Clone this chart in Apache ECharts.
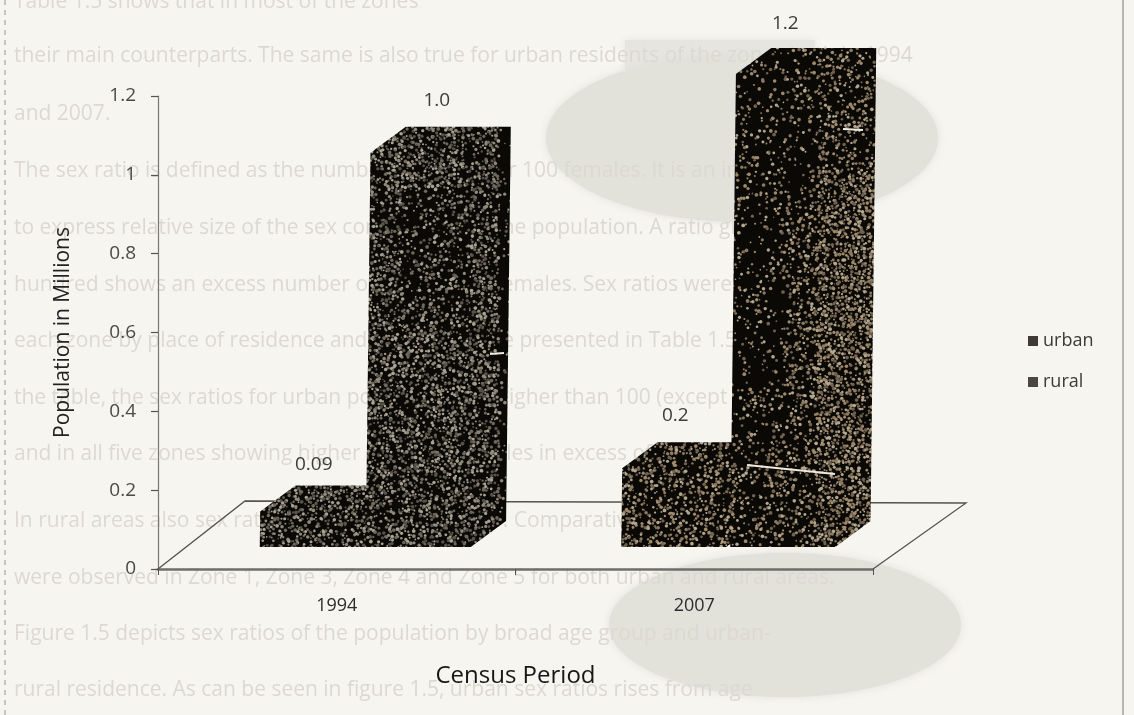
<!DOCTYPE html>
<html>
<head>
<meta charset="utf-8">
<title>Population by census period</title>
<script src="https://cdn.jsdelivr.net/npm/echarts@6/dist/echarts.min.js"></script>
<style>
html, body { margin: 0; padding: 0; background: #f7f5ef; }
#chart1 { width: 1134px; height: 715px; filter: blur(0.6px); }
</style>
</head>
<body>
<div id="chart1"></div>
<script>
// data
var categories = ['1994', '2007'];
var urban = [0.09, 0.2];
var rural = [1.0, 1.2];
var urbanLabels = ['0.09', '0.2'];
var ruralLabels = ['1.0', '1.2'];

// text of the page showing through the scan
var ghostLines = [
    'Table 1.5 shows that in most of the zones',
    'their main counterparts. The same is also true for urban residents of the zones both in 1994',
    'and 2007.',
    'The sex ratio is defined as the number of males per 100 females. It is an index used',
    'to express relative size of the sex composition of the population. A ratio greater than',
    'hundred shows an excess number of males than females. Sex ratios were calculated for',
    'each zone by place of residence and the results are presented in Table 1.5. As shown in',
    'the table, the sex ratios for urban population are higher than 100 (except Afar Region)',
    'and in all five zones showing higher number of males in excess of females.',
    'In rural areas also sex ratios were higher than 100. Comparatively higher sex ratios',
    'were observed in Zone 1, Zone 3, Zone 4 and Zone 5 for both urban and rural areas.',
    'Figure 1.5 depicts sex ratios of the population by broad age group and urban-',
    'rural residence. As can be seen in figure 1.5, urban sex ratios rises from age'
];
var ghostY = [2, 56, 114, 171, 228, 285, 341, 398, 454, 521, 578, 634, 690];

// bar geometry in pixels, relative to the band centre
var barLeft = [[-77, -73], [29, 36]];
var barWidth = 105;
var depthX = 35, depthY = 26;
var baseLift = 22;
var skew = 0.012;
var labelShift = [[54, 54], [71, 55]];
var labelGap = [21, 27, 26, 24];

// speckle texture for the bars, a full page canvas so it lines up with the marks
function makeTexture() {
    var raw = document.createElement('canvas');
    raw.width = 1134;
    raw.height = 715;
    var ctx = raw.getContext('2d');
    ctx.fillStyle = '#0b0906';
    ctx.fillRect(0, 0, 1134, 715);
    var seed = 12345;
    function next() {
        seed = (seed * 1664525 + 1013904223) % 4294967296;
        return seed / 4294967296;
    }
    var colors1994 = ['#8f897c', '#a8a294', '#6e685d', '#57524a'];
    var colors2007 = ['#a08a6c', '#8c7a62', '#b3a78f', '#6f6250'];
    for (var y = 36; y < 560; y += 3) {
        for (var x = 250; x < 880; x += 3) {
            var dens, colors;
            if (x < 560) {
                dens = 0.62;
                colors = colors1994;
                if (x > 497) dens = 0.12;
                if (x > 400 && x < 470 && y > 190 && y < 330) dens = 0.42;
            } else {
                colors = colors2007;
                if (x < 730) dens = 0.5;
                else if (x < 785) dens = y > 440 ? 0.38 : 0.2;
                else if (x < 815) dens = y < 200 ? 0.25 : 0.42;
                else dens = y < 170 ? 0.4 : 0.72;
            }
            if (next() < dens) {
                ctx.fillStyle = colors[Math.floor(next() * colors.length)];
                ctx.beginPath();
                ctx.arc(x + next() * 3, y + next() * 3, 0.8 + next() * 1.1, 0, Math.PI * 2);
                ctx.fill();
            }
        }
    }
    // scratches in the print
    ctx.strokeStyle = '#eeeae0';
    ctx.lineWidth = 2;
    ctx.beginPath();
    ctx.moveTo(747, 465); ctx.lineTo(835, 474);
    ctx.moveTo(843, 129); ctx.lineTo(863, 130);
    ctx.moveTo(490, 354); ctx.lineTo(504, 353);
    ctx.stroke();
    return raw;
}

var texture = { image: makeTexture(), repeat: 'repeat' };

function barRender(seriesIdx, labels) {
    return function (params, api) {
        var idx = params.dataIndex;
        var cat = api.value(0);
        var val = api.value(1);
        var zero = api.coord([cat, 0]);
        var top = api.coord([cat, val]);
        var left = zero[0] + barLeft[seriesIdx][idx];
        var right = left + barWidth;
        var baseY = zero[1] - baseLift;
        var topY = baseY - (zero[1] - top[1]);
        function p(x, y) {
            return [x + (baseY - y) * skew, y];
        }
        var pts = [
            p(left, baseY),
            p(left, topY),
            p(left + depthX, topY - depthY),
            p(right + depthX, topY - depthY),
            p(right + depthX, baseY - depthY),
            p(right, baseY)
        ];
        var gap = labelGap[seriesIdx * 2 + idx];
        return {
            type: 'group',
            children: [
                { type: 'polygon', shape: { points: pts }, style: { fill: texture } },
                {
                    type: 'text',
                    style: {
                        x: left + labelShift[seriesIdx][idx],
                        y: topY - depthY - gap,
                        text: labels[idx],
                        textAlign: 'center',
                        textVerticalAlign: 'middle',
                        fill: '#3c3c3a',
                        font: '19px "Open Sans"'
                    }
                }
            ]
        };
    };
}

function floorRender(params, api) {
    var box = params.coordSys;
    var x0 = box.x, y0 = box.y + box.height, x1 = box.x + box.width;
    return {
        type: 'polyline',
        shape: { points: [[x0, y0], [x0 + 87, y0 - 68], [x1 + 93, y0 - 66], [x1, y0]] },
        style: { fill: null, stroke: '#55534e', lineWidth: 1.3 }
    };
}

function toPairs(values) {
    return values.map(function (v, i) { return [i, v]; });
}

var ghost = ghostLines.map(function (line, i) {
    return {
        type: 'text',
        z: -1,
        silent: true,
        style: {
            x: 14,
            y: ghostY[i],
            text: line,
            textVerticalAlign: 'middle',
            fill: '#dbd9d2',
            font: '21px "Open Sans"'
        }
    };
});

var paper = [
    { type: 'rect', z: -3, silent: true, shape: { x: 625, y: 40, width: 190, height: 70 }, style: { fill: '#e6e5df', shadowBlur: 8, shadowColor: '#e6e5df' } },
    { type: 'ellipse', z: -2, silent: true, shape: { cx: 742, cy: 138, rx: 196, ry: 84 }, style: { fill: '#e2e1da', shadowBlur: 8, shadowColor: '#e2e1da' } },
    { type: 'ellipse', z: -2, silent: true, shape: { cx: 785, cy: 625, rx: 176, ry: 72 }, style: { fill: '#e2e1da', shadowBlur: 8, shadowColor: '#e2e1da' } },
    { type: 'line', z: -1, silent: true, shape: { x1: 5, y1: 0, x2: 5, y2: 715 }, style: { stroke: '#9a9890', lineWidth: 1, lineDash: [5, 5] } },
    { type: 'line', z: -1, silent: true, shape: { x1: 1123, y1: 0, x2: 1123, y2: 715 }, style: { stroke: '#8d8b84', lineWidth: 1.2 } }
];

var myChart = echarts.init(document.getElementById('chart1'));
var option = {
    backgroundColor: '#f7f5ef',
    animation: false,
    textStyle: { fontFamily: '"Open Sans"' },
    graphic: { elements: paper.concat(ghost) },
    grid: { left: 158, right: 261, top: 96, bottom: 146 },
    legend: {
        orient: 'vertical',
        left: 1023,
        top: 327,
        data: ['urban', 'rural'],
        icon: 'rect',
        itemWidth: 10,
        itemHeight: 10,
        itemGap: 23,
        textStyle: { fontSize: 18, color: '#3a3a38', fontFamily: '"Open Sans"' }
    },
    xAxis: {
        type: 'category',
        data: categories,
        name: 'Census Period',
        nameLocation: 'middle',
        nameGap: 95,
        nameTextStyle: { fontSize: 24, color: '#161616', fontFamily: '"Open Sans"' },
        axisLine: { lineStyle: { color: '#6f6e69', width: 2.5 } },
        axisTick: { show: true, length: 6, lineStyle: { color: '#55534e', width: 1 } },
        axisLabel: { margin: 28, fontSize: 18, color: '#2c2c2a' }
    },
    yAxis: {
        type: 'value',
        min: 0,
        max: 1.2,
        interval: 0.2,
        name: 'Population in Millions',
        nameLocation: 'middle',
        nameGap: 84,
        nameTextStyle: { fontSize: 21, color: '#222', fontFamily: '"Open Sans"' },
        splitLine: { show: false },
        axisLine: { show: true, lineStyle: { color: '#77756f', width: 1.2 } },
        axisTick: { show: true, length: 7, lineStyle: { color: '#55534e', width: 1.2 } },
        axisLabel: { margin: 22, fontSize: 19, color: '#4a4a47' }
    },
    series: [
        {
            name: 'floor',
            type: 'custom',
            coordinateSystem: 'cartesian2d',
            renderItem: floorRender,
            data: [[0, 0]],
            silent: true
        },
        {
            name: 'urban',
            type: 'custom',
            coordinateSystem: 'cartesian2d',
            renderItem: barRender(0, urbanLabels),
            encode: { x: 0, y: 1 },
            itemStyle: { color: '#3f3b34' },
            data: toPairs(urban)
        },
        {
            name: 'rural',
            type: 'custom',
            coordinateSystem: 'cartesian2d',
            renderItem: barRender(1, ruralLabels),
            encode: { x: 0, y: 1 },
            itemStyle: { color: '#4a4640' },
            data: toPairs(rural)
        }
    ]
};
myChart.setOption(option);
</script>
</body>
</html>
